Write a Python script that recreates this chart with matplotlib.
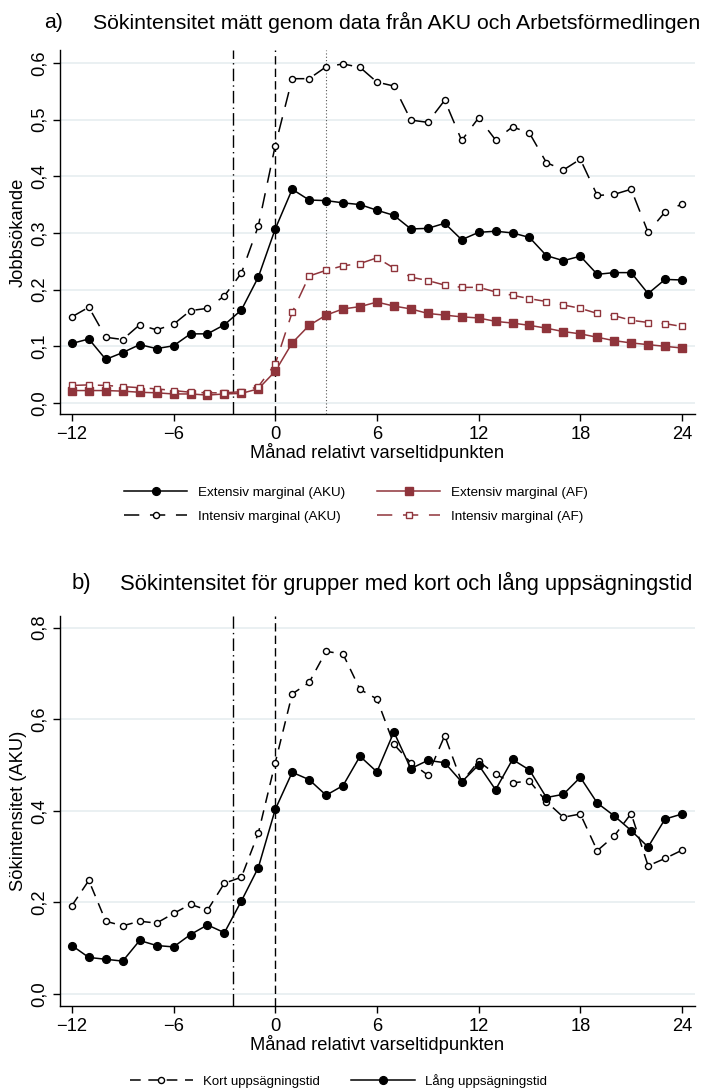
import numpy as np
import matplotlib
matplotlib.use("Agg")
import matplotlib.pyplot as plt
from matplotlib.ticker import FuncFormatter

plt.rcParams['font.family'] = ['Liberation Sans', 'DejaVu Sans']

months = np.arange(-12, 25)

# panel a
ext_aku = [0.105, 0.113, 0.077, 0.089, 0.103, 0.096, 0.101, 0.122, 0.122, 0.138,
           0.164, 0.222, 0.307, 0.377, 0.358, 0.357, 0.353, 0.350, 0.340, 0.331,
           0.307, 0.308, 0.317, 0.288, 0.301, 0.303, 0.300, 0.292, 0.260, 0.251,
           0.259, 0.227, 0.230, 0.230, 0.193, 0.218, 0.217]
int_aku = [0.152, 0.169, 0.116, 0.112, 0.138, 0.129, 0.139, 0.163, 0.167, 0.189,
           0.229, 0.312, 0.454, 0.572, 0.572, 0.593, 0.598, 0.592, 0.566, 0.559,
           0.499, 0.495, 0.534, 0.463, 0.503, 0.464, 0.487, 0.476, 0.424, 0.411,
           0.430, 0.366, 0.368, 0.377, 0.301, 0.337, 0.351]
ext_af = [0.022, 0.022, 0.022, 0.021, 0.019, 0.018, 0.016, 0.016, 0.014, 0.016,
          0.017, 0.025, 0.056, 0.106, 0.137, 0.155, 0.166, 0.170, 0.178, 0.171,
          0.166, 0.158, 0.155, 0.152, 0.150, 0.144, 0.141, 0.137, 0.132, 0.126,
          0.122, 0.116, 0.110, 0.106, 0.103, 0.100, 0.097]
int_af = [0.031, 0.032, 0.031, 0.029, 0.027, 0.025, 0.022, 0.019, 0.018, 0.018,
          0.020, 0.029, 0.069, 0.160, 0.224, 0.234, 0.242, 0.246, 0.256, 0.238,
          0.222, 0.216, 0.208, 0.204, 0.204, 0.196, 0.190, 0.184, 0.179, 0.173,
          0.167, 0.158, 0.154, 0.146, 0.142, 0.140, 0.135]

# panel b
kort = [0.193, 0.248, 0.159, 0.149, 0.159, 0.155, 0.176, 0.196, 0.183, 0.242,
        0.255, 0.351, 0.505, 0.655, 0.680, 0.748, 0.742, 0.665, 0.644, 0.545,
        0.505, 0.478, 0.564, 0.463, 0.508, 0.480, 0.461, 0.465, 0.420, 0.386,
        0.393, 0.313, 0.345, 0.394, 0.280, 0.296, 0.314]
lang = [0.106, 0.080, 0.076, 0.072, 0.117, 0.106, 0.103, 0.130, 0.151, 0.134,
        0.203, 0.276, 0.403, 0.484, 0.468, 0.434, 0.455, 0.519, 0.485, 0.572,
        0.492, 0.510, 0.505, 0.463, 0.500, 0.446, 0.512, 0.489, 0.429, 0.436,
        0.473, 0.417, 0.389, 0.357, 0.321, 0.382, 0.393]

red = '#8f343b'
grid_c = '#e6eef0'
comma = FuncFormatter(lambda v, p: ('%.1f' % v).replace('.', ','))

fig = plt.figure(figsize=(7.06, 10.89), dpi=100)
ax1 = fig.add_axes([0.085, 0.6198, 0.899, 0.3343])
ax2 = fig.add_axes([0.085, 0.0762, 0.899, 0.3581])


def style(ax, yticks, ylab):
    ax.set_xlim(-12.7, 24.75)
    ax.set_xticks([-12, -6, 0, 6, 12, 18, 24])
    ax.set_yticks(yticks)
    ax.yaxis.set_major_formatter(comma)
    for s in ['top', 'right']:
        ax.spines[s].set_visible(False)
    ax.spines['left'].set_linewidth(1.0)
    ax.spines['bottom'].set_linewidth(1.0)
    ax.tick_params(axis='both', labelsize=13.2, length=5, width=1)
    for lab in ax.get_yticklabels():
        lab.set_rotation(90)
        lab.set_va('center')
    ax.grid(axis='y', color=grid_c, lw=1.2)
    ax.set_axisbelow(True)
    ax.set_ylabel(ylab, fontsize=13.2, labelpad=3)
    ax.set_xlabel("Månad relativt varseltidpunkten", fontsize=13.2, labelpad=0)


# ---- panel a
ax1.set_ylim(-0.0194, 0.6226)
style(ax1, np.arange(0, 0.61, 0.1), "Jobbsökande")
ax1.axvline(-2.5, color='black', lw=1, ls=(0, (9, 3, 1, 3)))
ax1.axvline(0, color='black', lw=1, ls=(0, (6, 3)))
ax1.axvline(3, color='#555555', lw=0.8, ls=(0, (1, 2)))

ax1.plot(months, ext_aku, color='black', lw=1.1, marker='o', ms=5.6,
         label="Extensiv marginal (AKU)")
ax1.plot(months, int_aku, color='black', lw=1.1, ls=(0, (10, 7)), marker='o', ms=4.4,
         mfc='white', mew=1.0, label="Intensiv marginal (AKU)")
ax1.plot(months, ext_af, color=red, lw=1.1, marker='s', ms=5.2,
         label="Extensiv marginal (AF)")
ax1.plot(months, int_af, color=red, lw=1.1, ls=(0, (10, 7)), marker='s', ms=4.1,
         mfc='white', mew=1.0, label="Intensiv marginal (AF)")

h, l = ax1.get_legend_handles_labels()
fig.legend(h, l, loc='center',
           bbox_to_anchor=(0.504, 0.5366), ncol=2, frameon=False, fontsize=9.7,
           handlelength=4.7, handletextpad=0.75, columnspacing=2.4,
           labelspacing=0.9)

fig.text(0.063, 0.979, "a)", fontsize=15.3, ha='left', va='center')
fig.text(0.132, 0.979, "Sökintensitet mätt genom data från AKU och Arbetsförmedlingen",
         fontsize=15.3, ha='left', va='center')

# ---- panel b
ax2.set_ylim(-0.026, 0.825)
style(ax2, np.arange(0, 0.81, 0.2), "Sökintensitet (AKU)")
ax2.axvline(-2.5, color='black', lw=1, ls=(0, (9, 3, 1, 3)))
ax2.axvline(0, color='black', lw=1, ls=(0, (6, 3)))

ax2.plot(months, kort, color='black', lw=1.1, ls=(0, (7, 5)), marker='o', ms=4.4,
         mfc='white', mew=1.0, label="Kort uppsägningstid")
ax2.plot(months, lang, color='black', lw=1.1, marker='o', ms=5.6,
         label="Lång uppsägningstid")
fig.legend(*ax2.get_legend_handles_labels(), loc='center',
           bbox_to_anchor=(0.479, 0.0075), ncol=2, frameon=False, fontsize=9.5,
           handlelength=4.8, handletextpad=0.75, columnspacing=2.4)

fig.text(0.102, 0.4645, "b)", fontsize=15.8, ha='left', va='center')
fig.text(0.170, 0.4645, "Sökintensitet för grupper med kort och lång uppsägningstid",
         fontsize=15.8, ha='left', va='center')

fig.savefig("out.png", dpi=100)
